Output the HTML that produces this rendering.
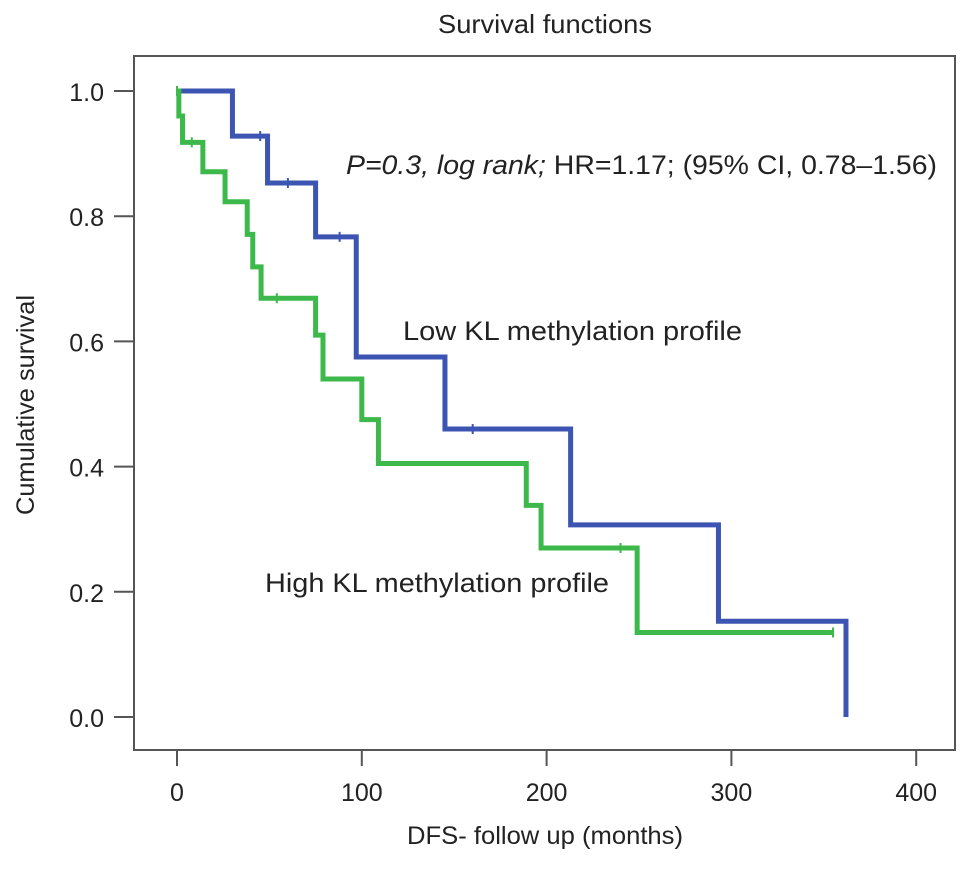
<!DOCTYPE html>
<html><head><meta charset="utf-8"><style>
body{margin:0;background:#fff}
svg text{font-family:"Liberation Sans",sans-serif;fill:#222}
</style></head><body>
<svg id="chart" width="969" height="866" xmlns="http://www.w3.org/2000/svg">
<text x="545" y="33" font-size="26" text-anchor="middle" textLength="214" lengthAdjust="spacingAndGlyphs">Survival functions</text>
<rect x="134" y="56" width="821" height="694" fill="none" stroke="#555" stroke-width="2"/>
<g id="axes"></g>
<g id="series"></g>
<text x="545" y="844" font-size="25" text-anchor="middle" textLength="276" lengthAdjust="spacingAndGlyphs">DFS- follow up (months)</text>
<text transform="translate(34,405) rotate(-90)" font-size="25" text-anchor="middle" textLength="220" lengthAdjust="spacingAndGlyphs">Cumulative survival</text>
<text x="346" y="174" font-size="27" textLength="591" lengthAdjust="spacingAndGlyphs"><tspan font-style="italic">P=0.3, log rank;</tspan> HR=1.17; (95% CI, 0.78–1.56)</text>
<text x="403" y="340" font-size="27" textLength="339" lengthAdjust="spacingAndGlyphs">Low KL methylation profile</text>
<text x="265" y="592" font-size="27" textLength="344" lengthAdjust="spacingAndGlyphs">High KL methylation profile</text>
</svg>
<script>
const xTicks=[0,100,200,300,400];
const yTicks=[0.0,0.2,0.4,0.6,0.8,1.0];
const lowTimes=[0,30,49,75,97,145,213,293,362];
const lowSurv=[1.0,0.928,0.853,0.767,0.575,0.46,0.307,0.153,0.0];
const lowEnd=362;
const lowCensor=[45,60,88,160];
const highTimes=[0,1,3,14,26,38,41,45.5,75,79,100,109,189,197,249];
const highSurv=[1.0,0.96,0.918,0.871,0.823,0.771,0.719,0.669,0.61,0.54,0.475,0.405,0.338,0.27,0.135];
const highEnd=355;
const highCensor=[0,8,54,240,355];
const NS="http://www.w3.org/2000/svg";
const X=t=>177+t*1.848;
const Y=v=>717-v*626;
function mk(tag,attrs,parent){const e=document.createElementNS(NS,tag);for(const k in attrs)e.setAttribute(k,attrs[k]);parent.appendChild(e);return e;}
const ax=document.getElementById('axes');
xTicks.forEach(t=>{
  const l=mk('line',{x1:X(t),x2:X(t),y1:750,y2:766,stroke:'#555','stroke-width':2},ax);
  
  
  const tx=mk('text',{x:X(t),y:801,'font-size':25,'text-anchor':'middle'},ax);tx.textContent=t;
  
  
});
yTicks.forEach(v=>{
  const l=mk('line',{x1:114,x2:134,y1:Y(v),y2:Y(v),stroke:'#555','stroke-width':2},ax);
  
  
  const tx=mk('text',{x:104,y:Y(v)+10,'font-size':25,'text-anchor':'end'},ax);tx.textContent=v.toFixed(1);
  
  
});
const sg=document.getElementById('series');
function step(times,surv,end){
  let d='M'+X(times[0])+','+Y(surv[0]);
  for(let i=1;i<times.length;i++){d+=' H'+X(times[i])+' V'+Y(surv[i]);}
  if(end>times[times.length-1])d+=' H'+X(end);
  return d;
}
function survAt(times,surv,t){let s=surv[0];for(let i=0;i<times.length;i++)if(times[i]<=t)s=surv[i];return s;}
function draw(times,surv,end,cens,color,name){
  const p=mk('path',{d:step(times,surv,end),fill:'none',stroke:color,'stroke-width':5},sg);
  
  
  cens.forEach(t=>{
    const y=Y(survAt(times,surv,t));
    const c=mk('line',{x1:X(t),x2:X(t),y1:y-5,y2:y+5,stroke:color,'stroke-width':2},sg);
    
    
  });
}
draw(lowTimes,lowSurv,lowEnd,lowCensor,'#3d55b2','low-methylation');
draw(highTimes,highSurv,highEnd,highCensor,'#3db84a','high-methylation');
</script>
</body></html>
